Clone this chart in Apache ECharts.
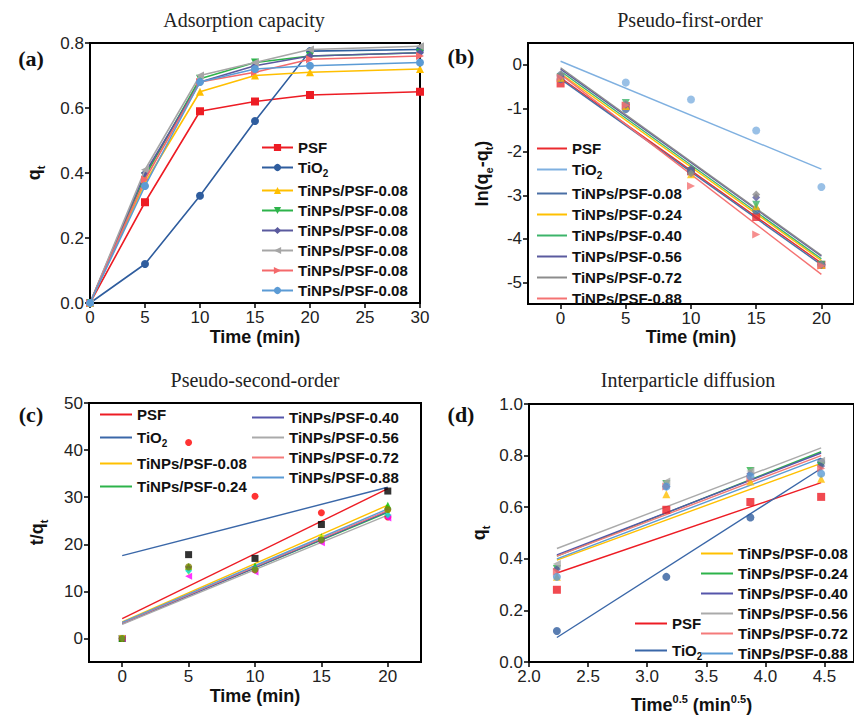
<!DOCTYPE html>
<html><head><meta charset="utf-8">
<script src="https://cdn.jsdelivr.net/npm/echarts@6/dist/echarts.min.js"></script>
<style>html,body{margin:0;padding:0;background:#fff}#c{width:854px;height:722px}</style>
</head><body><div id="c"></div>
<script>
// ================= DATA =================
// (a) Adsorption capacity
const aTime = [0, 5, 10, 15, 20, 30];
const aPSF  = [0, 0.31, 0.59, 0.62, 0.64, 0.65];
const aTiO2 = [0, 0.12, 0.33, 0.56, 0.775, 0.78];
const a008  = [0, 0.37, 0.65, 0.70, 0.71, 0.72];
const a024  = [0, 0.39, 0.69, 0.74, 0.76, 0.77];
const a040  = [0, 0.40, 0.68, 0.73, 0.76, 0.77];
const a056  = [0, 0.41, 0.70, 0.74, 0.78, 0.79];
const a072  = [0, 0.38, 0.68, 0.71, 0.75, 0.76];
const a088  = [0, 0.36, 0.68, 0.72, 0.73, 0.74];
const aLabels = ['PSF', 'TiO2', 'TiNPs/PSF-0.08', 'TiNPs/PSF-0.08', 'TiNPs/PSF-0.08',
                 'TiNPs/PSF-0.08', 'TiNPs/PSF-0.08', 'TiNPs/PSF-0.08'];

// (b) Pseudo-first-order: ln(qe-qt)
const bTime = [0, 5, 10, 15, 20];
const bPSF  = [-0.43, -0.95, -2.45, -3.50, -4.60];
const bTiO2 = [-0.24, -0.41, -0.80, -1.51, -2.81];
const b008  = [-0.33, -1.02, -2.45, -3.35, -4.60];
const b024  = [-0.30, -0.95, -2.52, -3.25, -4.60];
const b040  = [-0.28, -0.88, -2.45, -3.22, -4.60];
const b056  = [-0.26, -0.92, -2.39, -3.05, -4.60];
const b072  = [-0.22, -0.90, -2.50, -2.98, -4.60];
const b088  = [-0.30, -0.93, -2.79, -3.90, -4.62];
const bFitX     = [0, 20];
const bFitStart = [-0.30, 0.08, -0.33, -0.20, -0.15, -0.10, -0.07, -0.22];
const bFitEnd   = [-4.56, -2.40, -4.60, -4.50, -4.46, -4.40, -4.38, -4.82];
const bLabels = ['PSF', 'TiO2', 'TiNPs/PSF-0.08', 'TiNPs/PSF-0.24', 'TiNPs/PSF-0.40',
                 'TiNPs/PSF-0.56', 'TiNPs/PSF-0.72', 'TiNPs/PSF-0.88'];

// (c) Pseudo-second-order: t/qt
const cTime = [0, 5, 10, 15, 20];
const cPSF  = [0, 17.8, 17.0, 24.2, 31.3];
const cTiO2 = [0, 41.6, 30.2, 26.7, 25.8];
const c008  = [0, 15.3, 15.4, 21.6, 28.3];
const c024  = [0, 14.6, 14.6, 20.8, 26.8];
const c040  = [0, 13.2, 14.1, 20.3, 25.6];
const c056  = [0, 14.1, 14.5, 21.3, 26.6];
const c072  = [0, 14.4, 14.8, 20.9, 26.2];
const c088  = [0, 15.2, 14.6, 20.9, 27.4];
const cFitX     = [0, 20];
const cFitStart = [4.2, 17.6, 3.5, 3.2, 3.1, 3.0, 3.3, 3.4];
const cFitEnd   = [31.8, 32.1, 28.3, 26.8, 27.0, 26.2, 27.2, 27.5];
const cLabels = bLabels;

// (d) Interparticle diffusion: qt vs t^0.5
const dSqrtTime = [2.236, 3.162, 3.873, 4.472];
const dPSF  = [0.28, 0.59, 0.62, 0.64];
const dTiO2 = [0.12, 0.33, 0.56, 0.775];
const d008  = [0.33, 0.65, 0.70, 0.71];
const d024  = [0.36, 0.69, 0.74, 0.76];
const d040  = [0.36, 0.68, 0.73, 0.76];
const d056  = [0.38, 0.70, 0.74, 0.78];
const d072  = [0.35, 0.68, 0.71, 0.75];
const d088  = [0.33, 0.68, 0.72, 0.73];
const dFitX     = [2.236, 4.472];
const dFitStart = [0.345, 0.095, 0.395, 0.41, 0.415, 0.44, 0.41, 0.40];
const dFitEnd   = [0.695, 0.75, 0.77, 0.815, 0.81, 0.83, 0.80, 0.79];
const dLabels = bLabels;

// tick values
const bXTicks = [0, 5, 10, 15, 20];
const bYTicks = [-5, -4, -3, -2, -1, 0];
const cXTicks = [0, 5, 10, 15, 20];
const cYTicks = [0, 10, 20, 30, 40, 50];
const dXTicks = [2.0, 2.5, 3.0, 3.5, 4.0, 4.5];

// ================= STYLES =================
const SANS = '"Liberation Sans", Arial, sans-serif';
const SERIF = '"Liberation Serif", "Times New Roman", serif';
const colA = ['#ed1c24', '#2f5d9e', '#ffbf00', '#2db34a', '#5a5a9e', '#a6a6a6', '#f4696b', '#5b9bd5'];
const symA = [['rect', 0], ['circle', 0], ['triangle', 0], ['triangle', 180], ['diamond', 0], ['triangle', 90], ['triangle', -90], ['circle', 0]];
const colB = ['#ea2a2f', '#7fb0e0', '#4a6fa5', '#ffc000', '#3cb46a', '#5a5a9e', '#8c8c8c', '#f47272'];
const symB = [['rect', 0], ['circle', 0], ['circle', 0], ['triangle', 0], ['triangle', 180], ['diamond', 0], ['diamond', 0], ['triangle', -90]];
const colC = ['#ed1c24', '#3a67a8', '#ffc000', '#2db34a', '#5555aa', '#aaaaaa', '#f47a7a', '#5b9bd5'];
const colCpts = ['#000000', '#ff0000', '#00c000', '#3030ff', '#ff00ff', '#e8e800', '#00e0e0', '#808000'];
const symC = [['rect', 0], ['circle', 0], ['triangle', 0], ['triangle', 180], ['triangle', 90], ['triangle', 180], ['diamond', 0], ['circle', 0]];
const colD = colC;
const colDpts = colA;
const symD = [['rect', 0], ['circle', 0], ['triangle', 0], ['triangle', 180], ['diamond', 0], ['triangle', 90], ['triangle', -90], ['circle', 0]];

const aSeriesVals = [aPSF, aTiO2, a008, a024, a040, a056, a072, a088];
const bSeriesVals = [bPSF, bTiO2, b008, b024, b040, b056, b072, b088];
const cSeriesVals = [cPSF, cTiO2, c008, c024, c040, c056, c072, c088];
const dSeriesVals = [dPSF, dTiO2, d008, d024, d040, d056, d072, d088];

function zip(xs, ys) { return xs.map((x, i) => [x, ys[i]]); }
function fmt(name) {
  const t = name.slice(name.indexOf(':') + 1);
  return t.replace('TiO2', 'TiO{sub|2}');
}
const series = [];
// (a)
aSeriesVals.forEach((vals, i) => {
  series.push({
    name: 'a' + i + ':' + aLabels[i], type: 'line', xAxisIndex: 0, yAxisIndex: 0,
    data: zip(aTime, vals), symbol: symA[i][0], symbolRotate: symA[i][1], symbolSize: 8,
    itemStyle: { color: colA[i] }, lineStyle: { color: colA[i], width: 1.6 }, z: 2 + i
  });
});
// (b)
bSeriesVals.forEach((vals, i) => {
  series.push({
    name: 'bp' + i, type: 'scatter', xAxisIndex: 1, yAxisIndex: 1,
    data: zip(bTime, vals), symbol: symB[i][0], symbolRotate: symB[i][1], symbolSize: 8,
    itemStyle: { color: colB[i] }, z: 3
  });
  series.push({
    name: 'b' + i + ':' + bLabels[i], type: 'line', xAxisIndex: 1, yAxisIndex: 1,
    data: zip(bFitX, [bFitStart[i], bFitEnd[i]]), symbol: 'none',
    lineStyle: { color: colB[i], width: 1.4 }, itemStyle: { color: colB[i] }, z: 2
  });
});
// (c)
cSeriesVals.forEach((vals, i) => {
  series.push({
    name: 'cp' + i, type: 'scatter', xAxisIndex: 2, yAxisIndex: 2,
    data: zip(cTime, vals), symbol: symC[i][0], symbolRotate: symC[i][1], symbolSize: 7,
    itemStyle: { color: colCpts[i] }, z: 3
  });
  series.push({
    name: 'c' + i + ':' + cLabels[i], type: 'line', xAxisIndex: 2, yAxisIndex: 2,
    data: zip(cFitX, [cFitStart[i], cFitEnd[i]]), symbol: 'none',
    lineStyle: { color: colC[i], width: 1.4 }, itemStyle: { color: colC[i] }, z: 2
  });
});
// (d)
dSeriesVals.forEach((vals, i) => {
  series.push({
    name: 'dp' + i, type: 'scatter', xAxisIndex: 3, yAxisIndex: 3,
    data: zip(dSqrtTime, vals), symbol: symD[i][0], symbolRotate: symD[i][1], symbolSize: 8,
    itemStyle: { color: colDpts[i] }, z: 3
  });
  series.push({
    name: 'd' + i + ':' + dLabels[i], type: 'line', xAxisIndex: 3, yAxisIndex: 3,
    data: zip(dFitX, [dFitStart[i], dFitEnd[i]]), symbol: 'none',
    lineStyle: { color: colD[i], width: 1.4 }, itemStyle: { color: colD[i] }, z: 2
  });
});

const subRich = {
  sub: { fontSize: 11, fontWeight: 'bold', fontFamily: SANS, verticalAlign: 'bottom', lineHeight: 24, color: '#111' },
  sup: { fontSize: 11, fontWeight: 'bold', fontFamily: SANS, verticalAlign: 'top', lineHeight: 24, color: '#111' }
};
const legRich = {
  sub: { fontSize: 10, fontWeight: 'bold', fontFamily: SANS, verticalAlign: 'bottom', lineHeight: 21, color: '#111' }
};
function legend(prefix, idxs, left, top, gap, itemWidth, lineOnly) {
  const l = {
    data: idxs.map(i => prefix + i + ':' + ({ a: aLabels, b: bLabels, c: cLabels, d: dLabels }[prefix])[i]),
    orient: 'vertical', left: left, top: top, padding: 0, itemGap: gap,
    itemWidth: itemWidth, itemHeight: lineOnly ? 2 : 9, selectedMode: false,
    formatter: fmt,
    textStyle: { fontSize: 15, fontWeight: 'bold', fontFamily: SANS, color: '#111', rich: legRich }
  };
  if (lineOnly) l.icon = 'rect';
  return l;
}
const axisCommon = {
  type: 'value',
  axisLine: { show: true, onZero: false, lineStyle: { color: '#000', width: 2 } },
  axisTick: { show: true, length: 5, lineStyle: { color: '#000', width: 1.5 } },
  splitLine: { show: false },
  axisLabel: { color: '#222', fontSize: 17, fontFamily: SANS, margin: 6 },
  nameTextStyle: { fontSize: 18, fontWeight: 'bold', fontFamily: SANS, color: '#111', rich: subRich },
  nameLocation: 'middle',
  nameMoveOverlap: false
};
function ax(o) {
  const r = Object.assign({}, axisCommon, o);
  r.axisLabel = Object.assign({}, axisCommon.axisLabel, o.axisLabel || {});
  r.axisTick = Object.assign({}, axisCommon.axisTick, o.axisTick || {});
  return r;
}
const oneDec = v => v.toFixed(1);

const option = {
  animation: false,
  backgroundColor: '#fff',
  grid: [
    { left: 90, top: 43, width: 330, height: 260, show: true, borderColor: '#000', borderWidth: 2 },
    { left: 528, top: 43, width: 333, height: 261, show: true, borderColor: '#000', borderWidth: 2 },
    { left: 89, top: 403, width: 332, height: 259, show: true, borderColor: '#000', borderWidth: 2 },
    { left: 529, top: 404, width: 332, height: 258, show: true, borderColor: '#000', borderWidth: 2 }
  ],
  xAxis: [
    ax({ gridIndex: 0, min: 0, max: 30, interval: 5, name: 'Time (min)', nameGap: 25 }),
    ax({ gridIndex: 1, min: -2.5, max: 22.5, name: 'Time (min)', nameGap: 24,
         axisLabel: { customValues: bXTicks }, axisTick: { customValues: bXTicks } }),
    ax({ gridIndex: 2, min: -2.5, max: 22.5, name: 'Time (min)', nameGap: 25,
         axisLabel: { customValues: cXTicks }, axisTick: { customValues: cXTicks } }),
    ax({ gridIndex: 3, min: 2.0, max: 4.75, name: 'Time{sup|0.5} (min{sup|0.5})', nameGap: 31,
         axisLabel: { customValues: dXTicks, formatter: oneDec }, axisTick: { customValues: dXTicks } })
  ],
  yAxis: [
    ax({ gridIndex: 0, min: 0, max: 0.8, interval: 0.2, name: 'q{sub|t}', nameRotate: 90, nameGap: 44,
         axisLabel: { formatter: oneDec } }),
    ax({ gridIndex: 1, min: -5.5, max: 0.5, name: 'ln(q{sub|e}-q{sub|t})', nameRotate: 90, nameGap: 34,
         axisLabel: { customValues: bYTicks }, axisTick: { customValues: bYTicks } }),
    ax({ gridIndex: 2, min: -5, max: 50, name: 't/q{sub|t}', nameRotate: 90, nameGap: 40,
         axisLabel: { customValues: cYTicks }, axisTick: { customValues: cYTicks } }),
    ax({ gridIndex: 3, min: 0, max: 1.0, interval: 0.2, name: 'q{sub|t}', nameRotate: 90, nameGap: 38,
         axisLabel: { formatter: oneDec } })
  ],
  legend: [
    legend('a', [0, 1, 2, 3, 4, 5, 6, 7], 261, 140, 5, 31, false),
    legend('b', [0, 1, 2, 3, 4, 5, 6, 7], 537, 141, 6, 30, true),
    legend('c', [0, 1, 2, 3], 100, 407, 8, 32, true),
    legend('c', [4, 5, 6, 7], 252, 410, 5, 32, true),
    legend('d', [0, 1], 635, 616, 12, 32, true),
    legend('d', [2, 3, 4, 5, 6, 7], 701, 546, 5, 32, true)
  ],
  graphic: [
    { type: 'text', x: 244, y: 20, style: { text: 'Adsorption capacity', fontSize: 20, fontFamily: SERIF, fill: '#222', align: 'center', verticalAlign: 'middle' } },
    { type: 'text', x: 690, y: 20, style: { text: 'Pseudo-first-order', fontSize: 20, fontFamily: SERIF, fill: '#222', align: 'center', verticalAlign: 'middle' } },
    { type: 'text', x: 255, y: 380, style: { text: 'Pseudo-second-order', fontSize: 20, fontFamily: SERIF, fill: '#222', align: 'center', verticalAlign: 'middle' } },
    { type: 'text', x: 688, y: 380, style: { text: 'Interparticle diffusion', fontSize: 20, fontFamily: SERIF, fill: '#222', align: 'center', verticalAlign: 'middle' } },
    { type: 'text', x: 31, y: 58, style: { text: '(a)', fontSize: 22, fontWeight: 'bold', fontFamily: SERIF, fill: '#111', align: 'center', verticalAlign: 'middle' } },
    { type: 'text', x: 461, y: 56, style: { text: '(b)', fontSize: 22, fontWeight: 'bold', fontFamily: SERIF, fill: '#111', align: 'center', verticalAlign: 'middle' } },
    { type: 'text', x: 31, y: 414, style: { text: '(c)', fontSize: 22, fontWeight: 'bold', fontFamily: SERIF, fill: '#111', align: 'center', verticalAlign: 'middle' } },
    { type: 'text', x: 461, y: 414, style: { text: '(d)', fontSize: 22, fontWeight: 'bold', fontFamily: SERIF, fill: '#111', align: 'center', verticalAlign: 'middle' } }
  ],
  series: series
};
const chart = echarts.init(document.getElementById('c'), null, { renderer: 'svg' });
chart.setOption(option);
</script>
</body></html>
